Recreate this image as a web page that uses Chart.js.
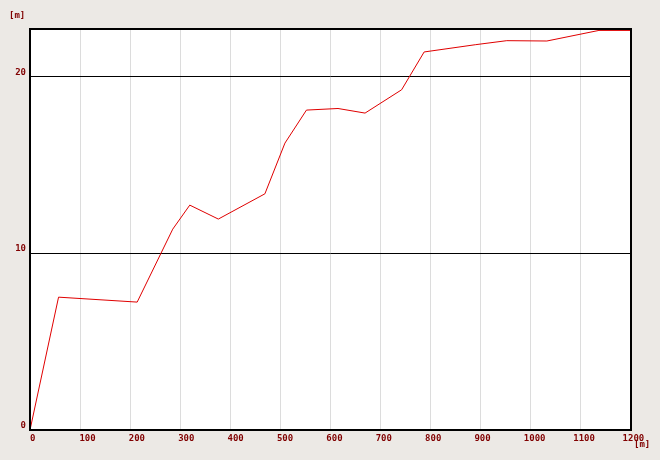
<!DOCTYPE html>
<html>
<head>
<meta charset="utf-8">
<script src="https://cdn.jsdelivr.net/npm/chart.js@4"></script>
<style>
  html, body { margin: 0; padding: 0; background: #ece9e5; }
  #wrap { width: 660px; height: 460px; position: relative; }
</style>
</head>
<body>
<div id="wrap"><canvas id="grafico"></canvas></div>
<script>
// distancia [m] y altura [m]
const distancias = [0, 57, 214, 285, 319, 376, 469, 509, 552, 615, 669, 742, 787, 889, 952, 1032, 1136, 1200];
const alturas = [0, 7.52, 7.24, 11.37, 12.73, 11.94, 13.37, 16.24, 18.11, 18.2, 17.94, 19.26, 21.4, 21.81, 22.04, 22.02, 22.62, 22.62];
const ticksX = [0, 100, 200, 300, 400, 500, 600, 700, 800, 900, 1000, 1100, 1200];
const ticksY = [0, 10, 20];
const unidad = '[m]';

const rojoTexto = '#800000';
const fuente = { family: 'DejaVu Sans Mono', size: 9, weight: 'bold' };

const puntos = distancias.map((d, i) => ({ x: d, y: alturas[i] }));

// fondo blanco del area y marco negro
const marco = {
  id: 'marco',
  beforeDraw(chart) {
    const { ctx, chartArea: a } = chart;
    ctx.save();
    ctx.fillStyle = '#fff';
    ctx.fillRect(a.left, a.top, a.right - a.left, a.bottom - a.top);
    ctx.restore();
  },
  afterDraw(chart) {
    const { ctx, chartArea: a } = chart;
    ctx.save();
    ctx.strokeStyle = '#000';
    ctx.lineWidth = 2;
    ctx.strokeRect(a.left, a.top, a.right - a.left, a.bottom - a.top);
    ctx.fillStyle = rojoTexto;
    ctx.font = 'bold 9px "DejaVu Sans Mono"';
    ctx.textBaseline = 'top';
    ctx.textAlign = 'left';
    ctx.fillText(unidad, 9, 11);
    ctx.fillText(unidad, 634, 440);
    ctx.restore();
  }
};

new Chart(document.getElementById('grafico'), {
  type: 'scatter',
  data: {
    datasets: [{
      data: puntos,
      showLine: true,
      borderColor: '#e00000',
      borderWidth: 1,
      pointRadius: 0,
      tension: 0
    }]
  },
  options: {
    responsive: true,
    maintainAspectRatio: false,
    animation: false,
    layout: { padding: { top: 29, right: 29, left: 0, bottom: 0 } },
    plugins: { legend: { display: false }, tooltip: { enabled: false } },
    scales: {
      x: {
        type: 'linear',
        min: 0,
        max: 1200,
        weight: 1,
        afterFit(s) { s.height = 0; },
        afterBuildTicks(s) { s.ticks = ticksX.map(v => ({ value: v })); },
        border: { display: false },
        grid: {
          drawTicks: false,
          color: c => (c.tick.value === 0 || c.tick.value === 1200) ? 'transparent' : '#dcdcdc',
          lineWidth: 1
        },
        ticks: { display: false }
      },
      // eje solo para los rotulos, algo corridos respecto a la rejilla como en el original
      xRotulos: {
        type: 'linear',
        position: 'bottom',
        min: 0,
        max: 1217,
        weight: 0,
        afterFit(s) { s.height = 30; },
        afterBuildTicks(s) { s.ticks = ticksX.map(v => ({ value: v })); },
        border: { display: false },
        grid: { display: false, drawTicks: false },
        ticks: {
          align: 'start',
          padding: 3,
          color: rojoTexto,
          font: fuente,
          maxRotation: 0,
          autoSkip: false,
          callback: v => String(v)
        }
      },
      y: {
        type: 'linear',
        min: 0,
        max: 22.7,
        afterFit(s) { s.width = 30; },
        afterBuildTicks(s) { s.ticks = ticksY.map(v => ({ value: v })); },
        border: { display: false },
        grid: {
          drawTicks: false,
          color: c => c.tick.value === 0 ? 'transparent' : '#000',
          lineWidth: 1
        },
        ticks: {
          align: 'end',
          padding: 4,
          color: rojoTexto,
          font: fuente,
          callback: v => String(v)
        }
      }
    }
  },
  plugins: [marco]
});
</script>
</body>
</html>
